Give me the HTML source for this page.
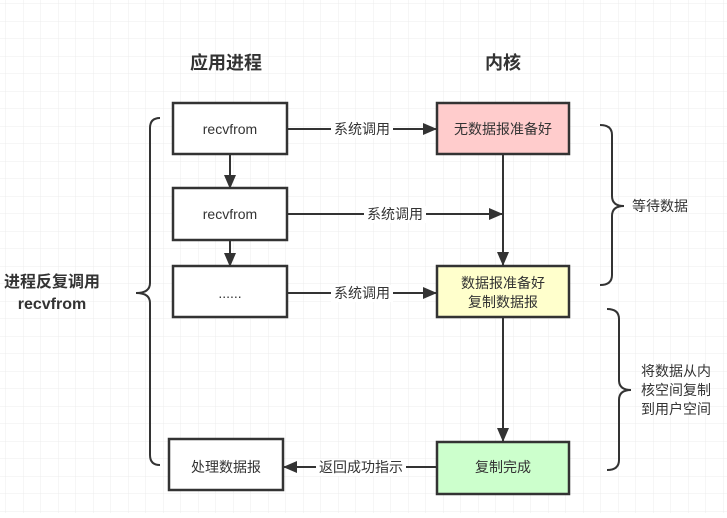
<!DOCTYPE html>
<html><head><meta charset="utf-8"><style>
body{margin:0;width:727px;height:513px;overflow:hidden;background:#fff;}
svg text{font-family:"Liberation Sans","Noto Sans CJK SC",sans-serif;fill:#333;}
</style></head><body>
<svg width="727" height="513" xmlns="http://www.w3.org/2000/svg">
<defs>
<pattern id="g" width="17.5" height="17.5" patternUnits="userSpaceOnUse" x="6" y="4">
<path d="M17.5 0V17.5H0" fill="none" stroke="#ececec" stroke-width="1"/>
</pattern>
<marker id="b" markerWidth="14" markerHeight="12" refX="13" refY="6" orient="auto" markerUnits="userSpaceOnUse">
<path d="M0,0L14,6L0,12z" fill="#333"/></marker>
</defs>
<rect width="727" height="513" fill="url(#g)"/>
<g stroke="#333" stroke-width="2.5" fill="#fff">
<rect x="173" y="103" width="114" height="51"/>
<rect x="173" y="188" width="114" height="52"/>
<rect x="173" y="266" width="114" height="51"/>
<rect x="169" y="439" width="114" height="51"/>
<rect x="437" y="103" width="132" height="51" fill="#ffcccc"/>
<rect x="437" y="266" width="132" height="51" fill="#ffffcc"/>
<rect x="437" y="442" width="132" height="52" fill="#ccffcc"/>
</g>
<g stroke="#333" stroke-width="2" fill="none">
<line x1="230" y1="154" x2="230" y2="188" marker-end="url(#b)"/>
<line x1="230" y1="240" x2="230" y2="266" marker-end="url(#b)"/>
<line x1="287" y1="129" x2="436" y2="129" marker-end="url(#b)"/>
<line x1="287" y1="214" x2="502" y2="214" marker-end="url(#b)"/>
<line x1="287" y1="293" x2="436" y2="293" marker-end="url(#b)"/>
<line x1="503" y1="154" x2="503" y2="265" marker-end="url(#b)"/>
<line x1="503" y1="317" x2="503" y2="441" marker-end="url(#b)"/>
<line x1="437" y1="467" x2="284" y2="467" marker-end="url(#b)"/>
<path d="M160,118 Q150,118 150,128 V283 Q150,293 136,293 Q150,293 150,303 V455 Q150,465 160,465"/>
<path d="M600,125 Q612,125 612,135 V196 Q612,206 624,206 Q612,206 612,216 V275 Q612,285 600,285"/>
<path d="M607,309 Q619,309 619,319 V380 Q619,390 631,390 Q619,390 619,400 V460 Q619,470 607,470"/>
</g>
<g font-size="14" text-anchor="middle">
<rect x="331" y="121" width="62" height="17" fill="#fff"/>
<text x="362" y="134">系统调用</text>
<rect x="364" y="206" width="62" height="17" fill="#fff"/>
<text x="395" y="219">系统调用</text>
<rect x="331" y="285" width="62" height="17" fill="#fff"/>
<text x="362" y="298">系统调用</text>
<rect x="316" y="459" width="90" height="17" fill="#fff"/>
<text x="361" y="472">返回成功指示</text>
<text x="230" y="134">recvfrom</text>
<text x="230" y="219">recvfrom</text>
<text x="230" y="298">......</text>
<text x="226" y="472">处理数据报</text>
<text x="503" y="134">无数据报准备好</text>
<text x="503" y="288">数据报准备好</text>
<text x="503" y="307">复制数据报</text>
<text x="503" y="472">复制完成</text>
<text x="660" y="211">等待数据</text>
<text x="676" y="376">将数据从内</text>
<text x="676" y="395">核空间复制</text>
<text x="676" y="414">到用户空间</text>
</g>
<g font-size="18" font-weight="bold" text-anchor="middle">
<text x="226" y="69">应用进程</text>
<text x="503" y="69">内核</text>
</g>
<g font-size="16" font-weight="bold" text-anchor="middle">
<text x="52" y="287">进程反复调用</text>
<text x="52" y="309">recvfrom</text>
</g>
</svg>
</body></html>
